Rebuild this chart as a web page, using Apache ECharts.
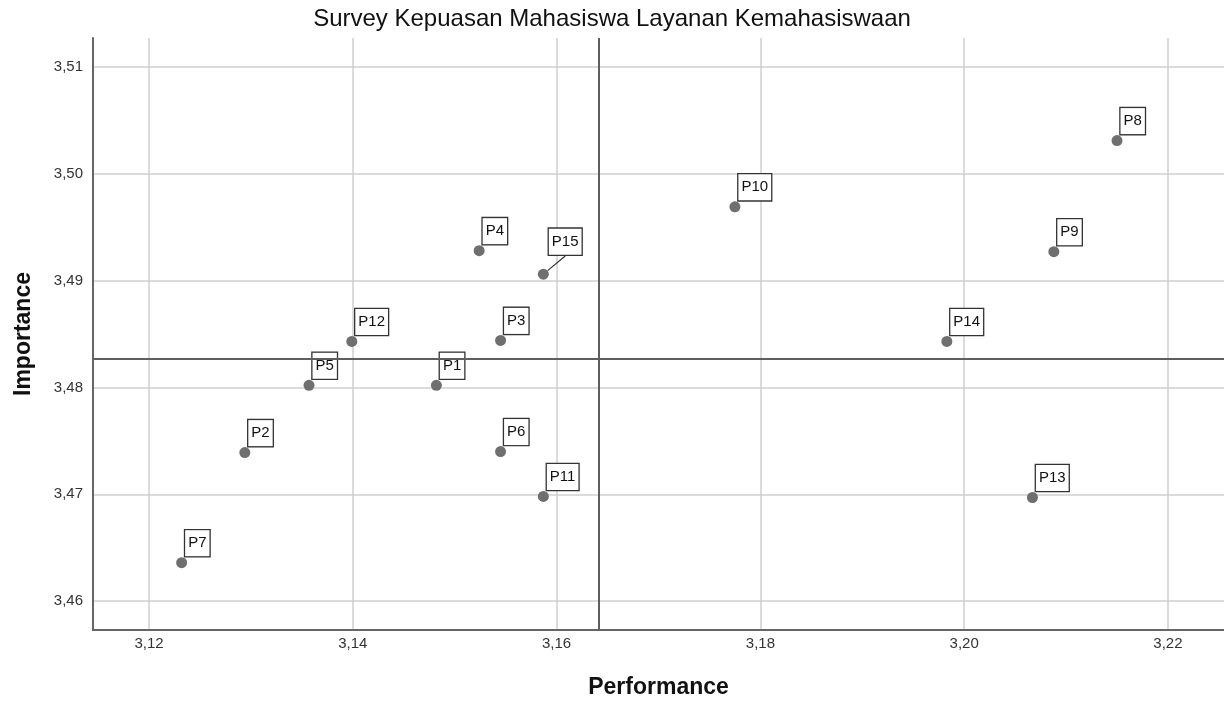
<!DOCTYPE html>
<html>
<head>
<meta charset="utf-8">
<script src="https://cdn.jsdelivr.net/npm/echarts@6/dist/echarts.min.js"></script>
<style>html,body{margin:0;padding:0;background:#fff}#c{width:1224px;height:704px}</style>
</head>
<body>
<div id="c"></div>
<script>
const categories = ['P1','P2','P3','P4','P5','P6','P7','P8','P9','P10','P11','P12','P13','P14','P15'];
const performance = [3.1482,3.1294,3.1545,3.1524,3.1357,3.1545,3.1232,3.2150,3.2088,3.1775,3.1587,3.1399,3.2067,3.1983,3.1587];
const importance  = [3.4802,3.4739,3.4844,3.4928,3.4802,3.4740,3.4636,3.5031,3.4927,3.4969,3.4698,3.4843,3.4697,3.4843,3.4906];
const xTicks = [3.12,3.14,3.16,3.18,3.20,3.22];
const yTicks = [3.46,3.47,3.48,3.49,3.50,3.51];

const meanX = performance.reduce((a,b)=>a+b,0)/performance.length;
const meanY = importance.reduce((a,b)=>a+b,0)/importance.length;
const fmt = v => Number(v).toFixed(2).replace('.', ',');
const FONT = 'Liberation Sans, Arial, sans-serif';

const data = categories.map((n,i)=>{
  const d = {name:n, value:[performance[i], importance[i]]};
  if (n === 'P15') {
    d.label = {position:[11,-14]};
    d.labelLine = {show:true, lineStyle:{color:'#333', width:1.2}};
  }
  return d;
});

const chart = echarts.init(document.getElementById('c'));
chart.setOption({
  animation:false,
  backgroundColor:'#fff',
  title:{text:'Survey Kepuasan Mahasiswa Layanan Kemahasiswaan', left:'center', top:2,
    textStyle:{fontFamily:FONT, fontSize:24, fontWeight:'normal', color:'#111'}},
  grid:{left:93, right:0, top:38, bottom:69},
  xAxis:{type:'value', min:3.1145, max:3.2255,
    name:'Performance', nameLocation:'middle', nameGap:46,
    nameTextStyle:{fontFamily:FONT, fontSize:23, fontWeight:'bold', color:'#111'},
    axisLine:{show:true, lineStyle:{color:'#666', width:2}},
    axisTick:{show:false, customValues:xTicks},
    axisLabel:{customValues:xTicks, formatter:fmt, margin:6, color:'#333', fontSize:15, fontFamily:FONT},
    splitLine:{show:true, lineStyle:{color:'#cfcfcf', width:1.5}}
  },
  yAxis:{type:'value', min:3.4573, max:3.5127,
    name:'Importance', nameLocation:'middle', nameGap:58, nameRotate:90,
    nameTextStyle:{fontFamily:FONT, fontSize:23, fontWeight:'bold', color:'#111'},
    axisLine:{show:true, lineStyle:{color:'#666', width:2}},
    axisTick:{show:false, customValues:yTicks},
    axisLabel:{customValues:yTicks, formatter:fmt, margin:10, color:'#333', fontSize:15, fontFamily:FONT},
    splitLine:{show:true, lineStyle:{color:'#cfcfcf', width:1.5}}
  },
  series:[{
    type:'scatter',
    data:data,
    symbolSize:11,
    itemStyle:{color:'#6f6f6f', opacity:1},
    label:{show:true, formatter:'{b}', position:[9,-1], align:'left', verticalAlign:'bottom',
      fontFamily:FONT, fontSize:15, color:'#111', lineHeight:18, opacity:1,
      backgroundColor:'#fff', borderColor:'#333', borderWidth:1.3, padding:[4,3,4,3]},
    markLine:{silent:true, symbol:'none', precision:6, label:{show:false},
      lineStyle:{color:'#5e5e5e', width:2, type:'solid'},
      emphasis:{disabled:true},
      data:[{xAxis:meanX},{yAxis:meanY}]}
  }]
});
</script>
</body>
</html>
